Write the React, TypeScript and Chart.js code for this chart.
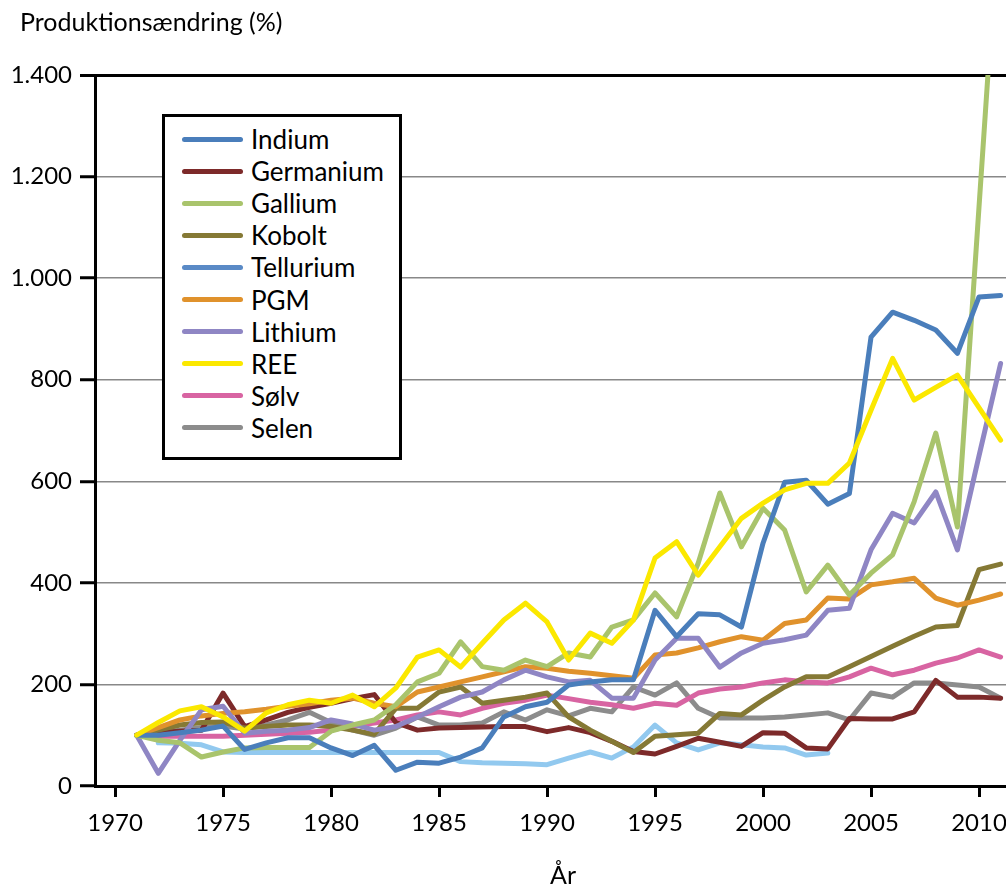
import React, { useEffect, useRef } from "react";
import { Chart, registerables } from "chart.js";

Chart.register(...registerables);

const years = [
  1971, 1972, 1973, 1974, 1975, 1976, 1977, 1978, 1979, 1980,
  1981, 1982, 1983, 1984, 1985, 1986, 1987, 1988, 1989, 1990,
  1991, 1992, 1993, 1994, 1995, 1996, 1997, 1998, 1999, 2000,
  2001, 2002, 2003, 2004, 2005, 2006, 2007, 2008, 2009, 2010, 2011,
];

const indium = [
  100, 100, 105, 110, 118, 72, 85, 95, 95, 75,
  60, 80, 31, 47, 45, 57, 75, 136, 156, 165,
  199, 205, 209, 209, 346, 294, 339, 337, 313, 478,
  598, 602, 555, 576, 884, 933, 917, 898, 852, 963, 966,
];
const germanium = [
  100, 105, 108, 110, 183, 117, 130, 145, 155, 163,
  172, 180, 125, 110, 114, 115, 116, 117, 117, 107,
  115, 105, 88, 68, 63, 78, 94, 86, 78, 105,
  104, 75, 73, 133, 132, 132, 146, 208, 175, 175, 173,
];
const gallium = [
  100, 90, 85, 57, 67, 75, 76, 76, 76, 108,
  120, 130, 160, 205, 222, 284, 235, 228, 248, 235,
  262, 254, 313, 327, 380, 333, 439, 577, 471, 547,
  504, 382, 435, 376, 419, 455, 560, 695, 510, 1140, 1770,
];
const kobolt = [
  100, 110, 120, 125, 126, 114, 117, 120, 120, 117,
  110, 102, 153, 153, 185, 195, 163, 169, 175, 183,
  136, 110, 88, 66, 98, 101, 104, 143, 140, 169,
  195, 215, 215, 235, 255, 275, 295, 313, 316, 426, 437,
];
const tellurium = [
  null, 85, 84, 81, 67, 66, 66, 66, 66, 66,
  66, 66, 66, 66, 66, 48, 46, 45, 44, 42,
  55, 67, 55, 77, 120, 85, 71, 85, 81, 77,
  75, 61, 65, null, null, null, null, null, null, null, null,
];
const pgm = [
  100, 115, 130, 138, 143, 146, 151, 157, 162, 169,
  173, 163, 156, 185, 195, 205, 215, 225, 235, 232,
  226, 222, 217, 212, 258, 262, 272, 284, 294, 287,
  320, 327, 370, 368, 396, 402, 409, 370, 356, 366, 378,
];
const lithium = [
  100, 25, 90, 150, 157, 104, 108, 110, 115, 130,
  122, 110, 117, 136, 156, 175, 185, 209, 228, 215,
  205, 208, 173, 173, 248, 291, 291, 234, 262, 281,
  288, 297, 346, 350, 465, 537, 518, 579, 465, 650, 832,
];
const ree = [
  100, 125, 148, 156, 136, 108, 144, 160, 169, 163,
  179, 156, 193, 254, 268, 234, 281, 327, 360, 323,
  248, 301, 281, 327, 449, 481, 415, 471, 527, 557,
  583, 596, 596, 636, 740, 842, 760, 785, 809, 745, 681,
];
const solv = [
  100, 98, 98, 98, 98, 100, 102, 104, 106, 110,
  118, 124, 130, 140, 146, 140, 153, 163, 169, 179,
  172, 165, 160, 153, 163, 159, 183, 191, 195, 203,
  209, 205, 203, 215, 232, 219, 228, 242, 252, 268, 254,
];
const selen = [
  100, 105, 110, 115, 118, 112, 120, 130, 145, 125,
  110, 100, 114, 136, 120, 120, 124, 146, 130, 150,
  138, 153, 146, 195, 179, 203, 153, 134, 134, 134,
  136, 140, 144, 130, 183, 175, 203, 203, 199, 195, 173,
];

const xTicks = [1970, 1975, 1980, 1985, 1990, 1995, 2000, 2005, 2010];
const yTicks = [0, 200, 400, 600, 800, 1000, 1200, 1400];

const seriesNames = ["Indium", "Germanium", "Gallium", "Kobolt", "Tellurium", "PGM", "Lithium", "REE", "Sølv", "Selen"];
const seriesValues = [indium, germanium, gallium, kobolt, tellurium, pgm, lithium, ree, solv, selen];
const lineColors = ["#4a7ebb", "#7d2a2a", "#a9c46c", "#857935", "#92c9ef", "#e0922c", "#8f86c4", "#fbe800", "#d864a2", "#8c8c8c"];
const legendColors = ["#4a7ebb", "#7d2a2a", "#a9c46c", "#857935", "#5a8ac6", "#e0922c", "#8f86c4", "#fbe800", "#d864a2", "#8c8c8c"];
const drawOrder = [1, 6, 2, 5, 9, 4, 3, 0, 7, 8];

const FONT = "Lato, 'Open Sans', sans-serif";

function fmt(v: number): string {
  return String(v).replace(/\B(?=(\d{3})+(?!\d))/g, ".");
}

export default function App() {
  const ref = useRef<HTMLCanvasElement | null>(null);

  useEffect(() => {
    if (!ref.current) return;
    const datasets = seriesNames.map((name, i) => ({
      label: name,
      data: seriesValues[i].map((v, j) => ({ x: years[j], y: v })),
      borderColor: lineColors[i],
      backgroundColor: lineColors[i],
      borderWidth: 5,
      pointRadius: 0,
      pointHoverRadius: 0,
      tension: 0,
      fill: false,
      spanGaps: false,
      borderJoinStyle: "round" as const,
      borderCapStyle: "round" as const,
      order: drawOrder[i],
      clip: { left: 5, top: 0, right: 5, bottom: 5 },
    }));

    const chart = new Chart(ref.current, {
      type: "line",
      data: { datasets },
      options: {
        animation: false,
        responsive: false,
        maintainAspectRatio: false,
        layout: { padding: { top: 75, left: 0, right: 0, bottom: 0 } },
        plugins: {
          legend: { display: false },
          tooltip: { enabled: false },
          title: { display: false },
        },
        scales: {
          x: {
            type: "linear",
            min: 1969.07,
            max: 2011.25,
            afterBuildTicks: (scale: any) => {
              scale.ticks = xTicks.map((v) => ({ value: v }));
            },
            afterFit: (scale: any) => {
              scale.height = 102;
              scale.paddingLeft = 0;
              scale.paddingRight = 0;
            },
            ticks: {
              autoSkip: false,
              maxRotation: 0,
              padding: 12,
              color: "#000",
              font: { family: FONT, size: 24 },
              callback: (v: any) => String(v),
            },
            grid: {
              drawOnChartArea: false,
              drawTicks: true,
              tickLength: 11,
              tickColor: "#000",
              tickWidth: 3,
            },
            border: { display: true, color: "#000", width: 3 },
          },
          y: {
            type: "linear",
            min: 0,
            max: 1400,
            afterBuildTicks: (scale: any) => {
              scale.ticks = yTicks.map((v) => ({ value: v }));
            },
            afterFit: (scale: any) => {
              scale.width = 95;
              scale.paddingTop = 0;
              scale.paddingBottom = 0;
            },
            ticks: {
              padding: 8,
              color: "#000",
              font: { family: FONT, size: 24 },
              callback: (v: any) => fmt(Number(v)),
            },
            grid: {
              drawTicks: true,
              tickLength: 15,
              tickColor: "#000",
              tickWidth: 3,
              color: (ctx: any) => (ctx.tick && ctx.tick.value === 1400 ? "#000" : "#888"),
              lineWidth: (ctx: any) => (ctx.tick && ctx.tick.value === 1400 ? 3 : 1.5),
            },
            border: { display: true, color: "#000", width: 3 },
          },
        },
      },
    });
    return () => chart.destroy();
  }, []);

  return (
    <div style={{ position: "absolute", left: 0, top: 0, width: 1006, height: 888, background: "#fff", overflow: "hidden", fontFamily: FONT }}>
      <canvas ref={ref} width={1006} height={888} style={{ position: "absolute", left: 0, top: 0, width: 1006, height: 888 }} />
      <div style={{ position: "absolute", left: 20, top: 6, fontSize: 25, lineHeight: "30px", color: "#000", whiteSpace: "nowrap" }}>
        Produktionsændring (%)
      </div>
      <div style={{ position: "absolute", left: 540, top: 860, width: 46, textAlign: "center", fontSize: 25, lineHeight: "28px", color: "#000" }}>
        År
      </div>
      <div style={{ position: "absolute", left: 162, top: 114, width: 240, height: 346, boxSizing: "border-box", border: "3px solid #000", background: "#fff" }}>
        {seriesNames.map((name, i) => (
          <div key={name} style={{ position: "absolute", left: 0, top: 25 + i * 32.1 - 3 - 15, height: 30, width: 236 }}>
            <div style={{ position: "absolute", left: 17, top: 12.5, width: 61, height: 5, borderRadius: 3, background: legendColors[i] }} />
            <div style={{ position: "absolute", left: 86, top: 0, fontSize: 26, lineHeight: "30px", color: "#000", whiteSpace: "nowrap" }}>{name}</div>
          </div>
        ))}
      </div>
    </div>
  );
}
